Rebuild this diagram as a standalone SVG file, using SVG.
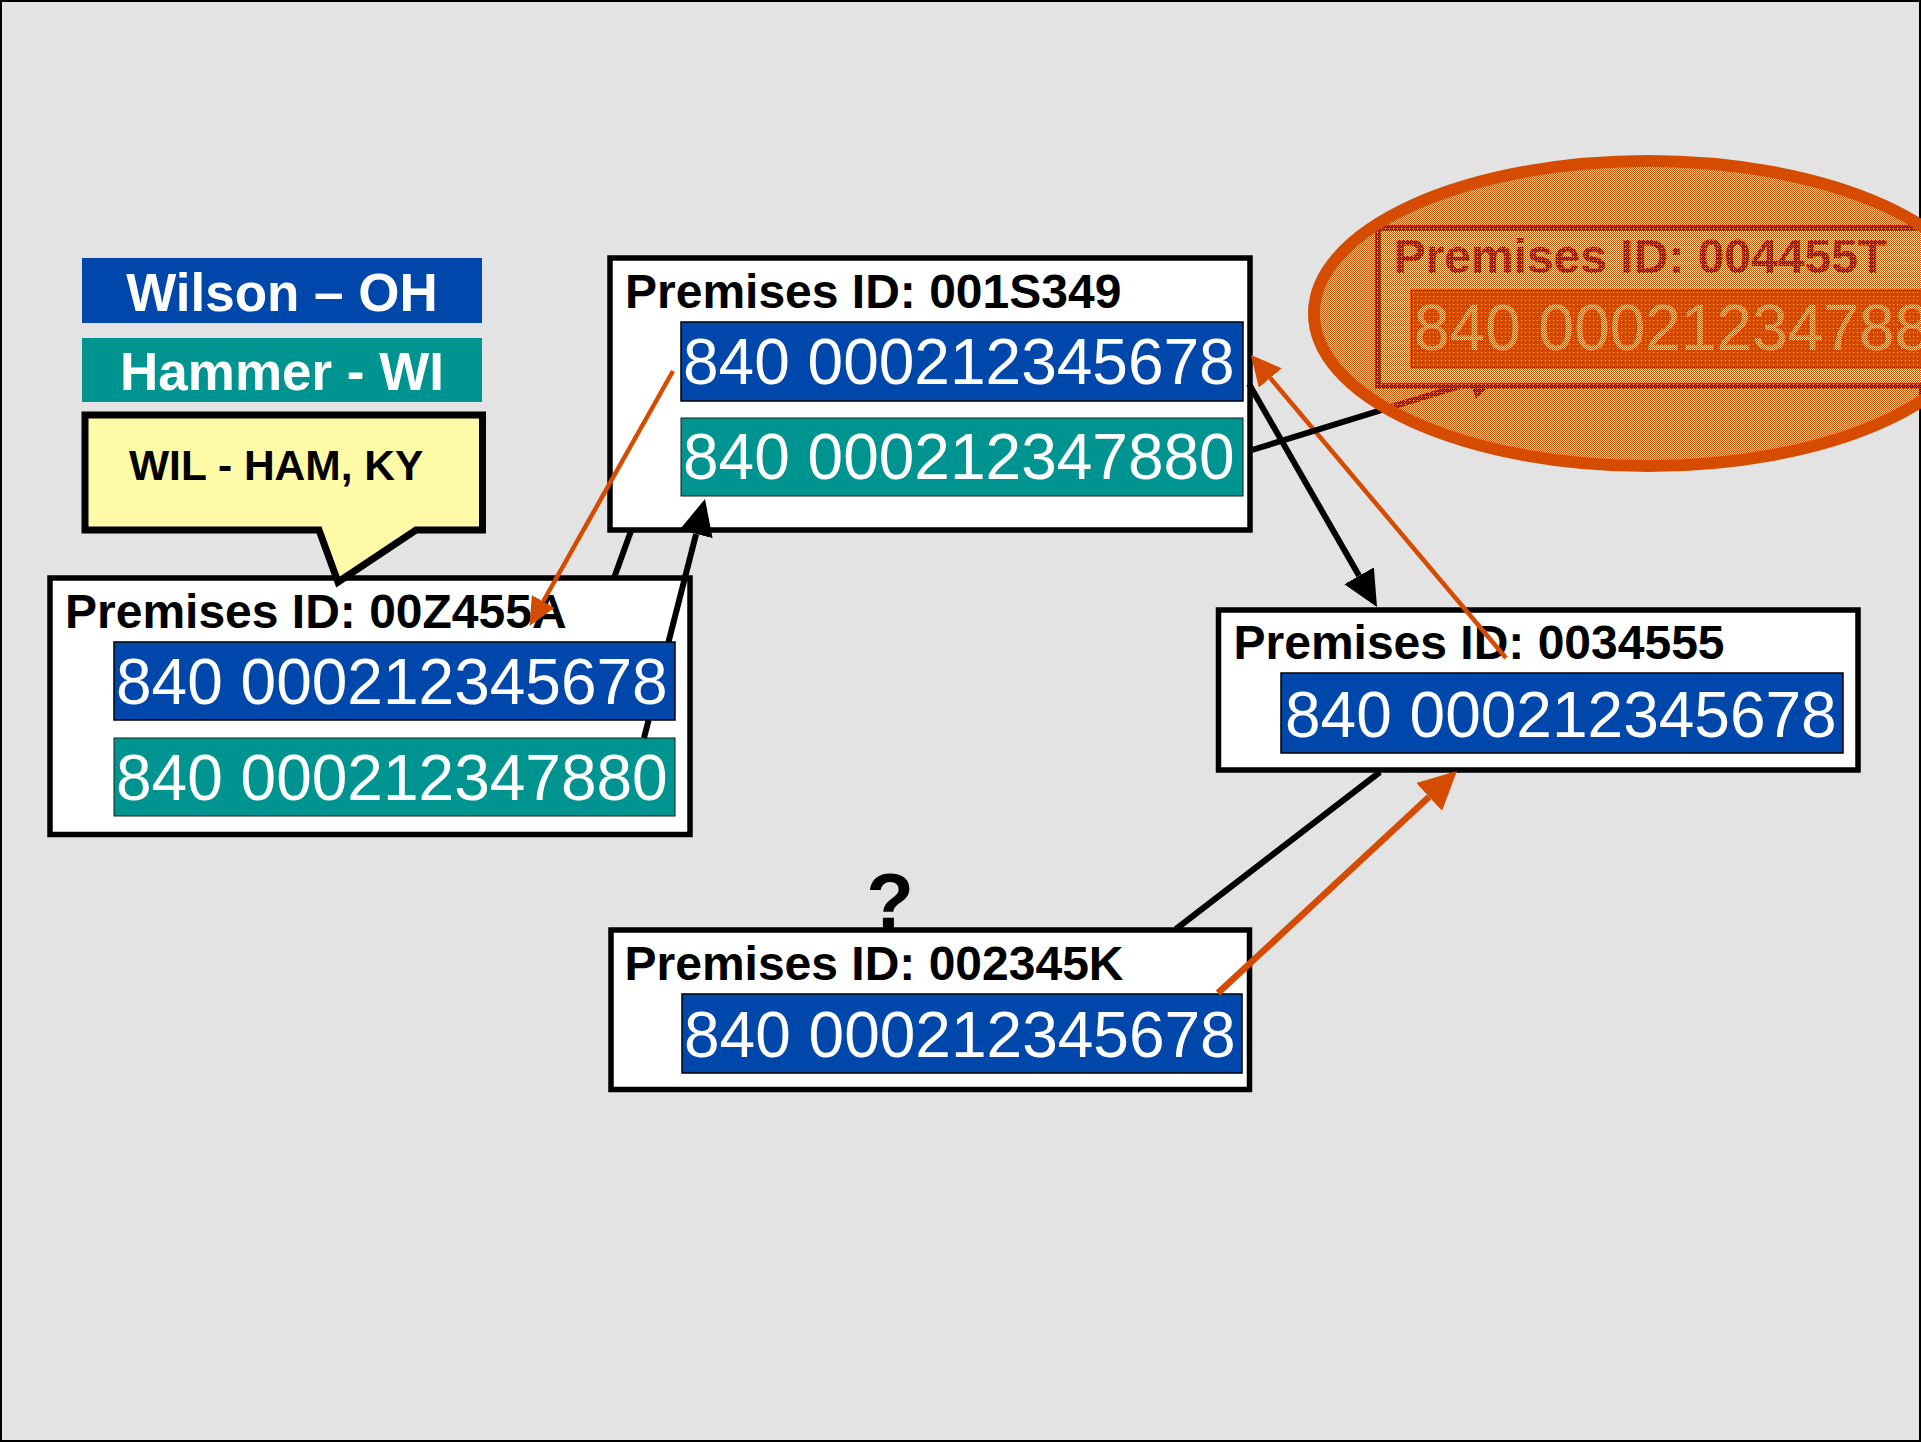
<svg xmlns="http://www.w3.org/2000/svg" width="1921" height="1442" viewBox="0 0 1921 1442">
<style>
.frame{fill:#fff;stroke:#000;stroke-width:5.5}
.blue{fill:#0047AB;stroke:#000;stroke-width:1.5}
.teal{fill:#009490;stroke:#1a1a1a;stroke-width:1}
.title{font-family:"Liberation Sans",Arial,sans-serif;font-weight:bold;font-size:48px;fill:#000}
.num{font-family:"Liberation Sans",Arial,sans-serif;font-size:64px;fill:#fff}
.legend{font-family:"Liberation Sans",Arial,sans-serif;font-weight:bold;font-size:53px;fill:#fff}
.blk{stroke:#000;stroke-width:6;fill:none}
.org{stroke:#D54B00;fill:none}
</style>
<defs>
<marker id="arrowBlack" markerUnits="userSpaceOnUse" markerWidth="36" markerHeight="34" viewBox="0 0 36 34" refX="0" refY="17" orient="auto"><path d="M0,0 L36,17 L0,34 z" fill="#000"/></marker>
<marker id="arrowOrangeSm" markerUnits="userSpaceOnUse" markerWidth="28" markerHeight="26" viewBox="0 0 28 26" refX="0" refY="13" orient="auto"><path d="M0,0 L28,13 L0,26 z" fill="#D54B00"/></marker>
<marker id="arrowOrangeMd" markerUnits="userSpaceOnUse" markerWidth="30" markerHeight="30" viewBox="0 0 30 30" refX="0" refY="15" orient="auto"><path d="M0,0 L30,15 L0,30 z" fill="#D54B00"/></marker>
<marker id="arrowOrangeLg" markerUnits="userSpaceOnUse" markerWidth="38" markerHeight="38" viewBox="0 0 38 38" refX="0" refY="19" orient="auto"><path d="M0,0 L38,19 L0,38 z" fill="#D54B00"/></marker>
<pattern id="dither" patternUnits="userSpaceOnUse" width="4" height="4">
<rect x="0" y="0" width="1" height="1" fill="#D54B00"/><rect x="2" y="0" width="1" height="1" fill="#D54B00"/>
<rect x="1" y="1" width="1" height="1" fill="#D54B00"/><rect x="3" y="1" width="1" height="1" fill="#D54B00"/>
<rect x="0" y="2" width="1" height="1" fill="#D54B00"/><rect x="2" y="2" width="1" height="1" fill="#D54B00"/>
<rect x="1" y="3" width="1" height="1" fill="#D54B00"/><rect x="3" y="3" width="1" height="1" fill="#D54B00"/>
<rect x="1" y="0" width="1" height="1" fill="#fff" fill-opacity="0.8"/>
</pattern>
</defs>
<rect x="1" y="1" width="1919" height="1440" fill="#E3E3E3" stroke="#000" stroke-width="2"/>

<g id="legend-wilson">
<rect x="82" y="258" width="400" height="65" fill="#0047AB"/>
<text class="legend" x="282" y="311" text-anchor="middle">Wilson – OH</text>
</g>
<g id="legend-hammer">
<rect x="82" y="338" width="400" height="64" fill="#009490"/>
<text class="legend" x="282" y="390" text-anchor="middle">Hammer - WI</text>
</g>

<g id="node-00Z455A">
<rect class="frame" x="50" y="578" width="640" height="256.5"/>
<text class="title" x="65" y="628">Premises ID: 00Z455A</text>
<rect class="blue" x="114" y="642" width="561" height="78"/>
<text class="num" x="116" y="704">840 000212345678</text>
<rect class="teal" x="114" y="738" width="561" height="78"/>
<text class="num" x="116" y="800">840 000212347880</text>
</g>

<g id="callout-wil-ham">
<path d="M85,415 L482.5,415 L482.5,530 L416,530 L338,582 L319,530 L85,530 Z" fill="#FFFAA8" stroke="#000" stroke-width="7" stroke-linejoin="miter"/>
<text x="129" y="480" font-family="Liberation Sans, Arial, sans-serif" font-weight="bold" font-size="42.5" fill="#000">WIL - HAM, KY</text>
</g>

<g id="node-001S349">
<rect class="frame" x="610" y="258" width="640" height="272"/>
<text class="title" x="625" y="307.5">Premises ID: 001S349</text>
<rect class="blue" x="681" y="322" width="562" height="79"/>
<text class="num" x="683" y="384">840 000212345678</text>
<rect class="teal" x="681" y="418" width="562" height="78"/>
<text class="num" x="683" y="479">840 000212347880</text>
</g>

<g id="node-0034555">
<rect class="frame" x="1218.5" y="610" width="639.5" height="160"/>
<text class="title" x="1233.5" y="659">Premises ID: 0034555</text>
<rect class="blue" x="1281" y="673" width="562" height="80"/>
<text class="num" x="1285" y="736.5">840 000212345678</text>
</g>

<g id="node-002345K">
<text x="890" y="928" text-anchor="middle" font-family="Liberation Sans, Arial, sans-serif" font-weight="bold" font-size="78" fill="#000">?</text>
<rect class="frame" x="611" y="930" width="638.5" height="159.5"/>
<text class="title" x="624.5" y="980">Premises ID: 002345K</text>
<rect class="blue" x="682" y="994" width="560" height="79"/>
<text class="num" x="684" y="1056.5">840 000212345678</text>
</g>

<g id="connectors">
<line class="blk" x1="614" y1="578" x2="631" y2="531"/>
<path class="blk" d="M644,738 L648.6,720 M668.5,642 L696.1,533.9" marker-end="url(#arrowBlack)"/>
<line class="org" stroke-width="4.5" x1="673" y1="371" x2="543.2" y2="601.5" marker-end="url(#arrowOrangeSm)"/>
<line class="blk" x1="1249" y1="384" x2="1359.1" y2="575.8" marker-end="url(#arrowBlack)"/>
<line class="org" stroke-width="4.5" x1="1506" y1="658" x2="1270.3" y2="378" marker-end="url(#arrowOrangeMd)"/>
<line class="blk" x1="1252" y1="450" x2="1470.6" y2="382.6" marker-end="url(#arrowBlack)"/>
<line class="blk" x1="1380" y1="772" x2="1176" y2="929"/>
<line class="org" stroke-width="6.5" x1="1218" y1="993" x2="1429.1" y2="796.9" marker-end="url(#arrowOrangeLg)"/>
</g>

<g id="node-004455T">
<rect class="frame" x="1378" y="228" width="600" height="158"/>
<text class="title" x="1393.5" y="273">Premises ID: 004455T</text>
<rect class="teal" x="1411" y="290" width="560" height="78"/>
<text class="num" x="1414" y="350">840 000212347880</text>
</g>

<g id="highlight">
<ellipse cx="1648" cy="313.5" rx="334" ry="152.5" fill="url(#dither)" stroke="#D54B00" stroke-width="12"/>
</g>
</svg>
